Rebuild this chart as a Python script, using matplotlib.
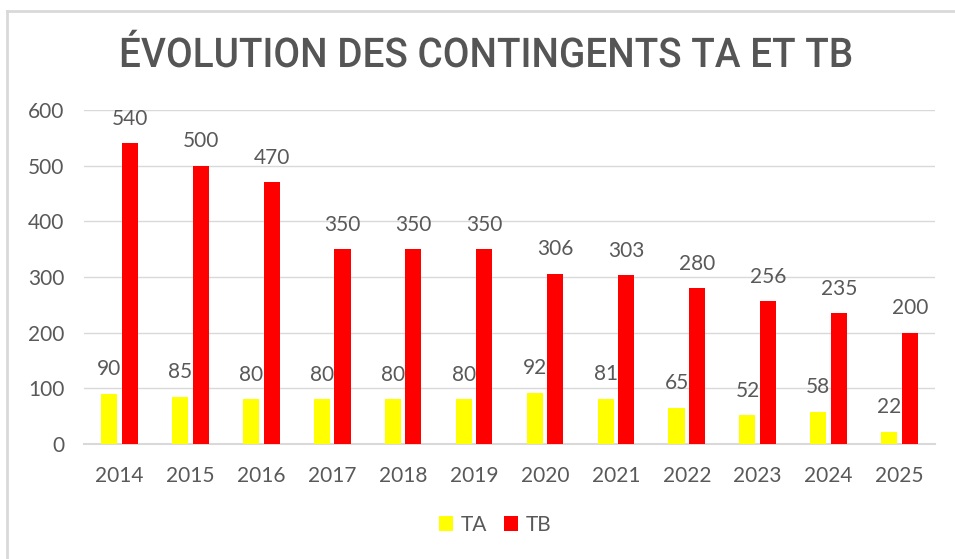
import matplotlib
matplotlib.use("Agg")
import matplotlib.pyplot as plt
import numpy as np
from matplotlib.patheffects import AbstractPathEffect
from matplotlib.transforms import Affine2D

years = ["2014", "2015", "2016", "2017", "2018", "2019", "2020", "2021", "2022", "2023", "2024", "2025"]
ta = [90, 85, 80, 80, 80, 80, 92, 81, 65, 52, 58, 22]
tb = [540, 500, 470, 350, 350, 350, 306, 303, 280, 256, 235, 200]
yticks = [0, 100, 200, 300, 400, 500, 600]


class HScale(AbstractPathEffect):
    """Horizontally condense a text around a given display x."""
    def __init__(self, sx, cx):
        super().__init__()
        self.sx, self.cx = sx, cx

    def draw_path(self, renderer, gc, tpath, affine, rgbFace=None):
        t = affine + Affine2D().translate(-self.cx, 0).scale(self.sx, 1).translate(self.cx, 0)
        renderer.draw_path(gc, tpath, t, rgbFace)


W, H = 955, 559
fig = plt.figure(figsize=(W / 100, H / 100), dpi=100)
fig.patch.set_facecolor("white")

fig.add_artist(plt.Line2D([7 / W, 7 / W], [0, 1 - 11 / H], color="#d9d9d9", lw=2, transform=fig.transFigure))
fig.add_artist(plt.Line2D([7 / W, 1], [1 - 11 / H, 1 - 11 / H], color="#d9d9d9", lw=2, transform=fig.transFigure))

left, right, top, bottom = 84, 935, 110, 444
ax = fig.add_axes([left / W, 1 - bottom / H, (right - left) / W, (bottom - top) / H])

x = np.arange(len(years))
bw = 0.226
off = 0.145
ax.bar(x - off, ta, bw, color="#ffff00", label="TA", zorder=3)
ax.bar(x + off, tb, bw, color="#ff0000", label="TB", zorder=3)

txtc = "#595959"
font = "Lato"
for xi, v in zip(x, ta):
    ax.text(xi - off, v + 26, str(v), ha="center", va="bottom", fontsize=15, color=txtc, family=font)
for xi, v in zip(x, tb):
    ax.text(xi + off, v + 26, str(v), ha="center", va="bottom", fontsize=15, color=txtc, family=font)

ax.set_xlim(-0.5, len(years) - 0.5)
ax.set_ylim(0, 600)
ax.set_yticks(yticks)
ax.set_yticklabels([str(t) for t in yticks])
ax.set_xticks(x)
ax.set_xticklabels(years)
for lab in ax.get_xticklabels() + ax.get_yticklabels():
    lab.set_fontsize(15)
    lab.set_color(txtc)
    lab.set_family(font)
ax.tick_params(axis="both", length=0)
ax.tick_params(axis="x", pad=16)
ax.tick_params(axis="y", pad=14)
ax.grid(axis="y", color="#d9d9d9", lw=1, zorder=0)
for s in ["top", "right", "left"]:
    ax.spines[s].set_visible(False)
ax.spines["bottom"].set_color("#d9d9d9")
ax.spines["bottom"].set_linewidth(1.5)

title_cx = 486.5
title = fig.text(title_cx / W, 1 - 67 / H, "ÉVOLUTION DES CONTINGENTS TA ET TB", ha="center", va="baseline",
                 fontsize=29.5, color="#555555", family="Roboto", fontweight="medium")
renderer = fig.canvas.get_renderer()
tw = title.get_window_extent(renderer).width
sx = 735.0 / tw
title.set_path_effects([HScale(sx, title_cx)])

leg = fig.legend(loc="center", bbox_to_anchor=(495 / W, 1 - 525 / H), ncol=2, frameon=False,
                 handlelength=0.7, handleheight=0.7, handletextpad=0.35, columnspacing=0.8,
                 prop={"family": font, "size": 15})
for t in leg.get_texts():
    t.set_color(txtc)

fig.savefig("out.png", dpi=100, facecolor="white")
